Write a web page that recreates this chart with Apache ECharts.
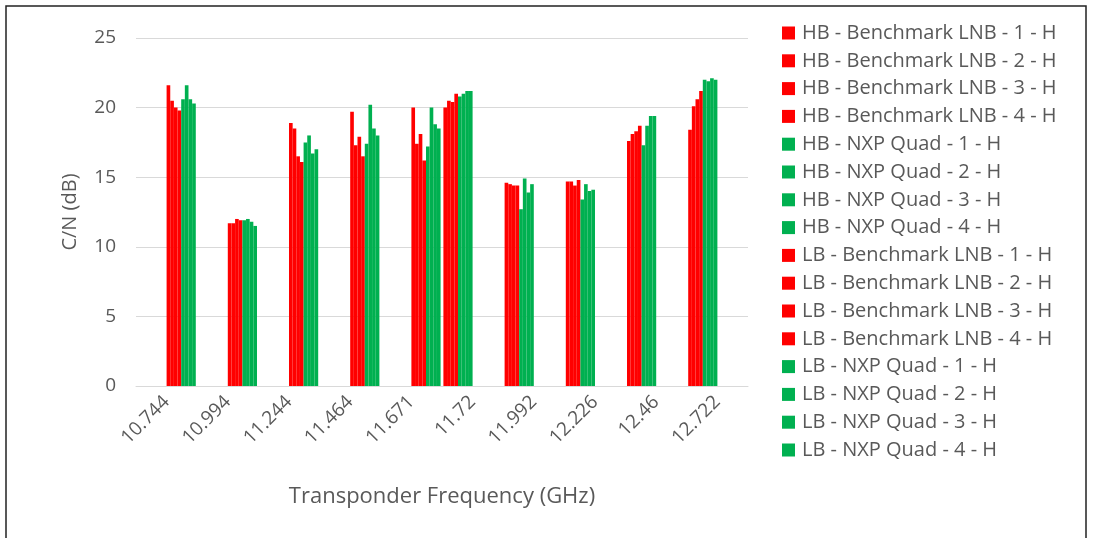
<!DOCTYPE html>
<html>
<head>
<meta charset="utf-8">
<title>C/N by transponder frequency</title>
<script src="https://cdn.jsdelivr.net/npm/echarts@6/dist/echarts.min.js"></script>
<style>
  html, body { margin: 0; padding: 0; background: #ffffff; }
  #chart { width: 1093px; height: 538px; }
</style>
</head>
<body>
<div id="chart"></div>
<script>
// Transponder frequencies (GHz): first five are low band, last five high band
const categories = ['10.744', '10.994', '11.244', '11.464', '11.671', '11.72', '11.992', '12.226', '12.46', '12.722'];

// C/N (dB), high-band measurements (only high-band transponders)
const hbBench1 = [null, null, null, null, null, 20.0, 14.6, 14.7, 17.6, 18.4];
const hbBench2 = [null, null, null, null, null, 20.5, 14.5, 14.7, 18.1, 20.1];
const hbBench3 = [null, null, null, null, null, 20.4, 14.4, 14.4, 18.3, 20.6];
const hbBench4 = [null, null, null, null, null, 21.0, 14.4, 14.8, 18.7, 21.2];
const hbNxp1   = [null, null, null, null, null, 20.8, 12.7, 13.4, 17.3, 22.0];
const hbNxp2   = [null, null, null, null, null, 21.0, 14.9, 14.5, 18.7, 21.9];
const hbNxp3   = [null, null, null, null, null, 21.2, 13.9, 14.0, 19.4, 22.1];
const hbNxp4   = [null, null, null, null, null, 21.2, 14.5, 14.1, 19.4, 22.0];

// C/N (dB), low-band measurements (only low-band transponders)
const lbBench1 = [21.6, 11.7, 18.9, 19.7, 20.0, null, null, null, null, null];
const lbBench2 = [20.5, 11.7, 18.5, 17.3, 17.4, null, null, null, null, null];
const lbBench3 = [20.0, 12.0, 16.5, 17.9, 18.1, null, null, null, null, null];
const lbBench4 = [19.8, 11.9, 16.1, 16.5, 16.2, null, null, null, null, null];
const lbNxp1   = [20.6, 11.9, 17.5, 17.4, 17.2, null, null, null, null, null];
const lbNxp2   = [21.6, 12.0, 18.0, 20.2, 20.0, null, null, null, null, null];
const lbNxp3   = [20.6, 11.8, 16.7, 18.5, 18.8, null, null, null, null, null];
const lbNxp4   = [20.3, 11.5, 17.0, 18.0, 18.5, null, null, null, null, null];

const seriesNames = [
  'HB - Benchmark LNB - 1 - H', 'HB - Benchmark LNB - 2 - H', 'HB - Benchmark LNB - 3 - H', 'HB - Benchmark LNB - 4 - H',
  'HB - NXP Quad - 1 - H', 'HB - NXP Quad - 2 - H', 'HB - NXP Quad - 3 - H', 'HB - NXP Quad - 4 - H',
  'LB - Benchmark LNB - 1 - H', 'LB - Benchmark LNB - 2 - H', 'LB - Benchmark LNB - 3 - H', 'LB - Benchmark LNB - 4 - H',
  'LB - NXP Quad - 1 - H', 'LB - NXP Quad - 2 - H', 'LB - NXP Quad - 3 - H', 'LB - NXP Quad - 4 - H'
];
const seriesValues = [
  hbBench1, hbBench2, hbBench3, hbBench4, hbNxp1, hbNxp2, hbNxp3, hbNxp4,
  lbBench1, lbBench2, lbBench3, lbBench4, lbNxp1, lbNxp2, lbNxp3, lbNxp4
];

const yTicks = { min: 0, max: 25, interval: 5 };

const RED = '#ff0000';
const GREEN = '#00b050';
const FONT = 'Open Sans';
const TEXT = '#595959';

const series = seriesNames.map((name, i) => ({
  name: name,
  type: 'bar',
  data: seriesValues[i],
  barGap: '0%',
  barCategoryGap: '4.6%',
  itemStyle: { color: name.indexOf('Benchmark') >= 0 ? RED : GREEN },
  emphasis: { disabled: true }
}));

const chart = echarts.init(document.getElementById('chart'), null, { renderer: 'canvas' });
chart.setOption({
  backgroundColor: '#ffffff',
  animation: false,
  textStyle: { fontFamily: FONT },
  grid: { left: 136, right: 345, top: 38, bottom: 152 },
  legend: {
    orient: 'vertical',
    left: 777,
    top: 18,
    itemWidth: 13,
    itemHeight: 13,
    itemGap: 7.8,
    icon: 'rect',
    textStyle: { fontFamily: FONT, fontSize: 20, color: TEXT, lineHeight: 20, padding: [0, 0, 0, 2] },
    data: seriesNames
  },
  xAxis: {
    type: 'category',
    data: categories,
    name: 'Transponder Frequency (GHz)',
    nameLocation: 'middle',
    nameGap: 100,
    nameTextStyle: { fontFamily: FONT, fontSize: 22, color: TEXT },
    axisLine: { show: true, lineStyle: { color: '#d9d9d9' } },
    axisTick: { show: false },
    axisLabel: { rotate: 45, margin: 13, fontFamily: FONT, fontSize: 19, color: TEXT, interval: 0 }
  },
  yAxis: {
    type: 'value',
    min: yTicks.min,
    max: yTicks.max,
    interval: yTicks.interval,
    name: 'C/N (dB)',
    nameLocation: 'middle',
    nameGap: 56,
    nameTextStyle: { fontFamily: FONT, fontSize: 20, color: TEXT },
    axisLine: { show: false },
    axisTick: { show: false },
    splitLine: { lineStyle: { color: '#d9d9d9', width: 1 } },
    axisLabel: { margin: 20, fontFamily: FONT, fontSize: 19, color: TEXT }
  },
  graphic: [{
    type: 'rect',
    shape: { x: 6, y: 6, width: 1080, height: 540 },
    style: { fill: 'none', stroke: '#222222', lineWidth: 1.5 },
    silent: true
  }],
  series: series
});
</script>
</body>
</html>
